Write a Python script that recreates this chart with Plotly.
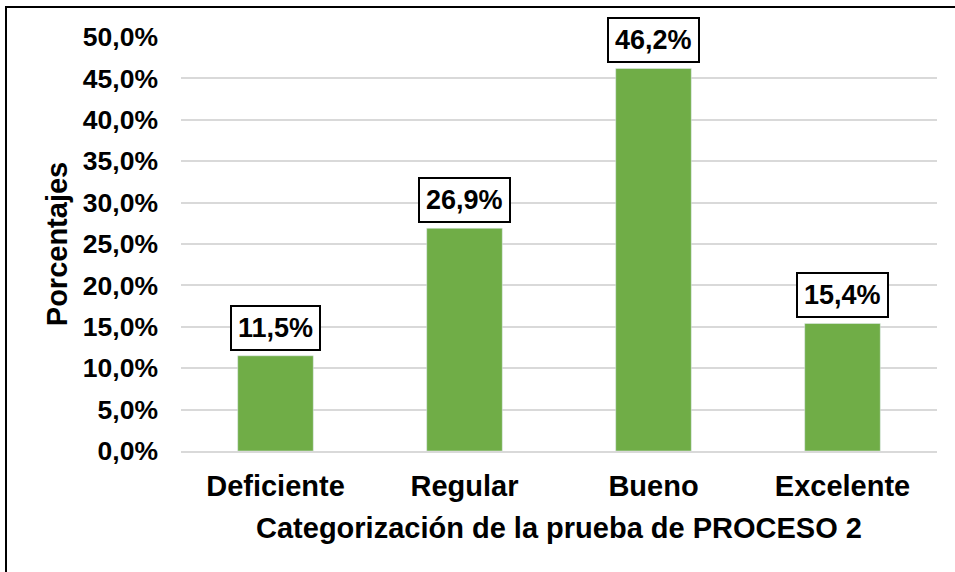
import plotly.graph_objects as go

categories = ["Deficiente", "Regular", "Bueno", "Excelente"]
values = [11.5, 26.9, 46.2, 15.4]
labels = ["11,5%", "26,9%", "46,2%", "15,4%"]
tick_vals = [0, 5, 10, 15, 20, 25, 30, 35, 40, 45, 50]
tick_text = ["0,0%", "5,0%", "10,0%", "15,0%", "20,0%", "25,0%", "30,0%", "35,0%", "40,0%", "45,0%", "50,0%"]

FONT = "Liberation Sans, Arial, sans-serif"
L, R, T, B = 181, 18, 37, 121
W, H = 955, 572
pw, ph = W - L - R, H - T - B

fig = go.Figure()
fig.add_trace(go.Bar(x=categories, y=values, marker_color="#70AD47", width=0.4,
                     hoverinfo="skip"))

for c, v, t in zip(categories, values, labels):
    fig.add_annotation(x=c, y=v, text="<b>" + t + "</b>", showarrow=False,
                       yanchor="bottom", yshift=5,
                       font=dict(family=FONT, size=27, color="black"),
                       bordercolor="black", borderwidth=2, borderpad=6,
                       bgcolor="white")

def px2x(p):
    return (p - L) / pw

def py2y(p):
    return (H - B - p) / ph

fig.add_shape(type="rect", xref="paper", yref="paper",
              x0=px2x(6), x1=px2x(965), y0=py2y(7), y1=py2y(590),
              line=dict(color="black", width=2), layer="above")

fig.update_layout(
    width=W, height=H,
    margin=dict(l=L, r=R, t=T, b=B),
    paper_bgcolor="white", plot_bgcolor="white",
    showlegend=False,
    font=dict(family=FONT, color="black"),
)
fig.update_yaxes(range=[0, 50], tickvals=tick_vals, ticktext=["<b>" + s + "</b>" for s in tick_text],
                 tickfont=dict(size=26.5, family=FONT, color="black"),
                 showgrid=True, gridcolor="#D9D9D9", gridwidth=2, zeroline=False,
                 ticks="", ticklen=0, showline=False, ticklabelstandoff=22,
                 title=dict(text="<b>Porcentajes</b>", font=dict(size=29, family=FONT, color="black"), standoff=6))
fig.update_xaxes(tickfont=dict(size=29, family=FONT, color="black"),
                 tickvals=categories, ticktext=["<b>" + c + "</b>" for c in categories],
                 showline=True, linecolor="#D9D9D9", linewidth=2, ticks="", ticklabelstandoff=8,
                 title=dict(text="<b>Categorización de la prueba de PROCESO 2</b>",
                            font=dict(size=29, family=FONT, color="black"), standoff=17))

fig.write_html("out.html", config={"displayModeBar": False},
               post_script="document.body.style.margin='0';document.body.style.overflow='hidden';")
